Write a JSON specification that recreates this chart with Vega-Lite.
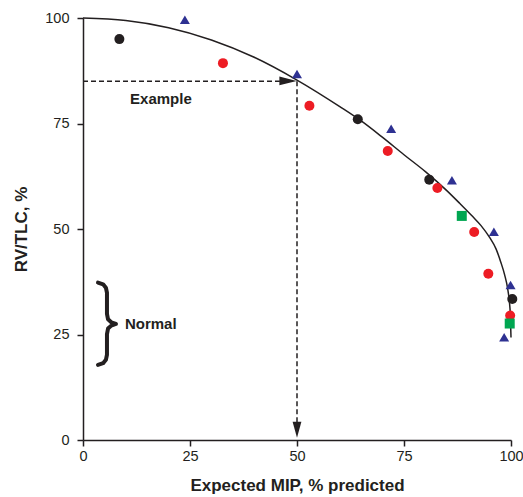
{
  "$schema": "https://vega.github.io/schema/vega-lite/v6.json",
  "width": 428,
  "height": 422,
  "autosize": {"type": "none"},
  "padding": {"left": 83, "top": 18, "right": 12, "bottom": 57},
  "background": "white",
  "config": {
    "view": {"stroke": null},
    "font": "Liberation Sans",
    "axis": {
      "grid": false,
      "domainColor": "#231f20",
      "domainWidth": 1.5,
      "tickColor": "#231f20",
      "tickWidth": 1.5,
      "tickSize": 6,
      "labelFlush": false,
      "labelFont": "Liberation Sans",
      "labelFontSize": 14.5,
      "labelColor": "#231f20",
      "titleFont": "Liberation Sans",
      "titleFontSize": 17,
      "titleFontWeight": "bold",
      "titleColor": "#231f20"
    }
  },
  "datasets": {
    "curve": [
      {"x": 0, "y": 100},
      {"x": 10, "y": 99.4},
      {"x": 20, "y": 97.7},
      {"x": 30, "y": 94.8},
      {"x": 40, "y": 90.7},
      {"x": 50, "y": 85.3},
      {"x": 60, "y": 79.0},
      {"x": 65, "y": 75.6},
      {"x": 70, "y": 71.7},
      {"x": 75, "y": 67.6},
      {"x": 80, "y": 63.6},
      {"x": 85, "y": 59.1},
      {"x": 88, "y": 56.1},
      {"x": 91, "y": 53.0},
      {"x": 93, "y": 50.8},
      {"x": 95, "y": 48.0},
      {"x": 96.5, "y": 45.3},
      {"x": 97.6, "y": 42.2},
      {"x": 98.5, "y": 39.2},
      {"x": 99.2, "y": 36.0},
      {"x": 99.6, "y": 33.0},
      {"x": 99.85, "y": 29.5},
      {"x": 100, "y": 24.3}
    ],
    "brace": [
      {"o": 1, "x": 3.5, "y": 37.3},
      {"o": 2, "x": 4.7, "y": 36.9},
      {"o": 3, "x": 5.35, "y": 36.1},
      {"o": 4, "x": 5.6, "y": 34.9},
      {"o": 5, "x": 5.6, "y": 29.9},
      {"o": 6, "x": 5.85, "y": 28.6},
      {"o": 7, "x": 6.6, "y": 27.9},
      {"o": 8, "x": 7.7, "y": 27.5},
      {"o": 9, "x": 6.6, "y": 27.1},
      {"o": 10, "x": 5.85, "y": 26.4},
      {"o": 11, "x": 5.6, "y": 25.1},
      {"o": 12, "x": 5.6, "y": 20.2},
      {"o": 13, "x": 5.35, "y": 19.0},
      {"o": 14, "x": 4.7, "y": 18.2},
      {"o": 15, "x": 3.5, "y": 17.8}
    ],
    "pts": [
      {"g": "A", "x": 8.5, "y": 95.0},
      {"g": "A", "x": 64.2, "y": 76.0},
      {"g": "A", "x": 80.9, "y": 61.7},
      {"g": "A", "x": 100.3, "y": 33.4},
      {"g": "B", "x": 32.7, "y": 89.3},
      {"g": "B", "x": 52.9, "y": 79.2},
      {"g": "B", "x": 71.2, "y": 68.5},
      {"g": "B", "x": 82.8, "y": 59.7},
      {"g": "B", "x": 91.4, "y": 49.3},
      {"g": "B", "x": 94.7, "y": 39.4},
      {"g": "B", "x": 99.8, "y": 29.5},
      {"g": "C", "x": 23.8, "y": 99.5},
      {"g": "C", "x": 50.0, "y": 86.7},
      {"g": "C", "x": 72.0, "y": 73.7},
      {"g": "C", "x": 86.2, "y": 61.5},
      {"g": "C", "x": 96.0, "y": 49.3},
      {"g": "C", "x": 99.9, "y": 36.7},
      {"g": "C", "x": 98.4, "y": 24.3},
      {"g": "D", "x": 88.5, "y": 53.1},
      {"g": "D", "x": 99.7, "y": 27.6}
    ],
    "dash": [
      {"x": 0, "x2": 46, "y": 85, "y2": 85},
      {"x": 50, "x2": 50, "y": 85, "y2": 3}
    ]
  },
  "layer": [
    {
      "data": {"name": "dash"},
      "mark": {"type": "rule", "strokeDash": [5, 3], "strokeWidth": 1.5, "color": "#231f20"},
      "encoding": {
        "x": {"field": "x", "type": "quantitative", "scale": {"domain": [0, 100], "nice": false},
          "axis": {"values": [0, 25, 50, 75, 100], "title": "Expected MIP, % predicted", "titlePadding": 15, "labelPadding": 3}},
        "x2": {"field": "x2"},
        "y": {"field": "y", "type": "quantitative", "scale": {"domain": [0, 100], "nice": false},
          "axis": {"values": [0, 25, 50, 75, 100], "title": "RV/TLC, %", "titlePadding": 14, "labelPadding": 8}},
        "y2": {"field": "y2"}
      }
    },
    {
      "data": {"name": "curve"},
      "mark": {"type": "line", "interpolate": "monotone", "color": "#231f20", "strokeWidth": 1.5},
      "encoding": {
        "x": {"field": "x", "type": "quantitative"},
        "y": {"field": "y", "type": "quantitative"}
      }
    },
    {
      "data": {"name": "brace"},
      "mark": {"type": "line", "interpolate": "linear", "color": "#231f20", "strokeWidth": 4, "strokeCap": "round", "strokeJoin": "round"},
      "encoding": {
        "x": {"field": "x", "type": "quantitative"},
        "y": {"field": "y", "type": "quantitative"},
        "order": {"field": "o", "type": "quantitative"}
      }
    },
    {
      "data": {"name": "pts"},
      "mark": {"type": "point", "filled": true, "opacity": 1},
      "encoding": {
        "x": {"field": "x", "type": "quantitative"},
        "y": {"field": "y", "type": "quantitative"},
        "color": {"field": "g", "type": "nominal", "legend": null,
          "scale": {"domain": ["A", "B", "C", "D"], "range": ["#231f20", "#ed1c24", "#2e3192", "#00a651"]}},
        "shape": {"field": "g", "type": "nominal", "legend": null,
          "scale": {"domain": ["A", "B", "C", "D"], "range": ["circle", "circle", "M-1,0.8L1,0.8L0,-0.9Z", "square"]}},
        "size": {"field": "g", "type": "nominal", "legend": null,
          "scale": {"domain": ["A", "B", "C", "D"], "range": [100, 100, 130, 100]}}
      }
    },
    {
      "data": {"values": [{"x": 47.9, "y": 85.1}]},
      "mark": {"type": "point", "filled": true, "opacity": 1, "color": "#231f20", "size": 300, "shape": "M-1,-0.5L1,0L-1,0.5Z"},
      "encoding": {"x": {"field": "x", "type": "quantitative"}, "y": {"field": "y", "type": "quantitative"}}
    },
    {
      "data": {"values": [{"x": 50, "y": 2.4}]},
      "mark": {"type": "point", "filled": true, "opacity": 1, "color": "#231f20", "size": 256, "shape": "M-0.55,-1L0.55,-1L0,1Z"},
      "encoding": {"x": {"field": "x", "type": "quantitative"}, "y": {"field": "y", "type": "quantitative"}}
    },
    {
      "data": {"values": [{"x": 18.2, "y": 80.7, "t": "Example"}]},
      "mark": {"type": "text", "fontWeight": "bold", "fontSize": 15, "color": "#231f20", "align": "center", "baseline": "middle"},
      "encoding": {"x": {"field": "x", "type": "quantitative"}, "y": {"field": "y", "type": "quantitative"}, "text": {"field": "t"}}
    },
    {
      "data": {"values": [{"x": 9.8, "y": 27.6, "t": "Normal"}]},
      "mark": {"type": "text", "fontWeight": "bold", "fontSize": 15, "color": "#231f20", "align": "left", "baseline": "middle"},
      "encoding": {"x": {"field": "x", "type": "quantitative"}, "y": {"field": "y", "type": "quantitative"}, "text": {"field": "t"}}
    }
  ]
}
